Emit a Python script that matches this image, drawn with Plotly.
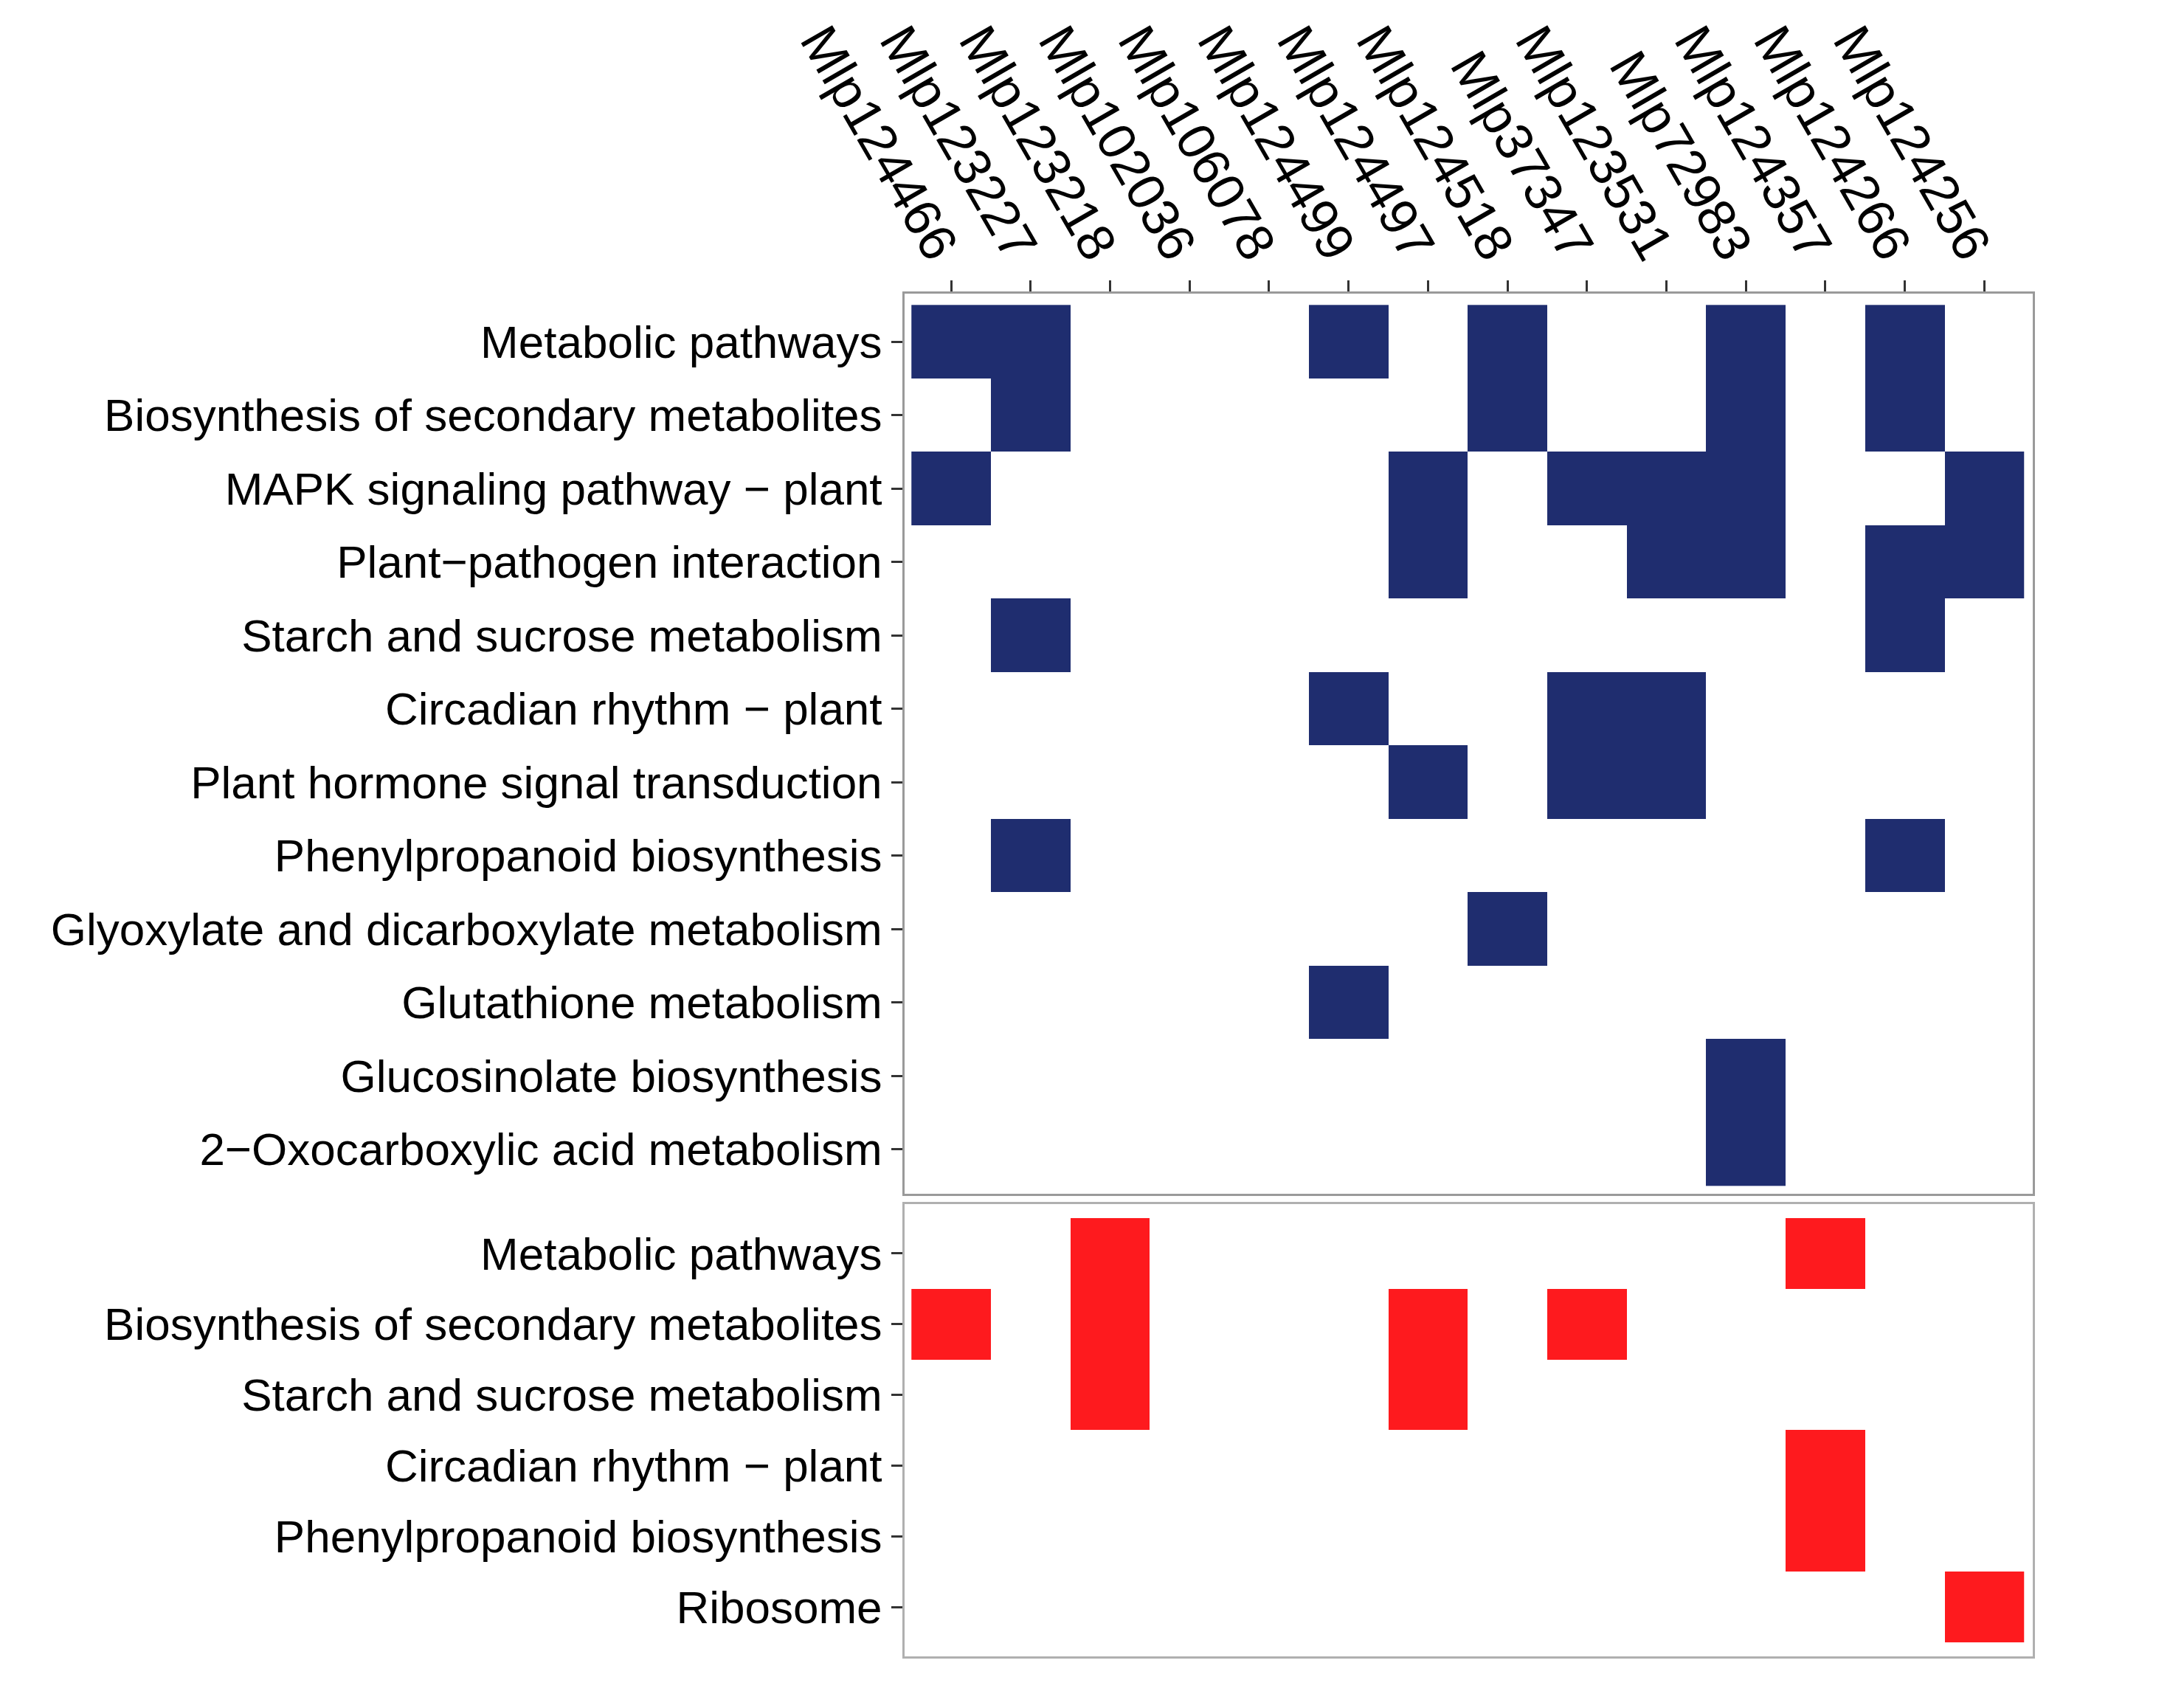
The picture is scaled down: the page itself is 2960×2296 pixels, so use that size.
import plotly.graph_objects as go

# ---------------- data ----------------
genes = ["Mlp124466", "Mlp123227", "Mlp123218", "Mlp102036", "Mlp106078",
         "Mlp124499", "Mlp124497", "Mlp124518", "Mlp37347", "Mlp123531",
         "Mlp72983", "Mlp124357", "Mlp124266", "Mlp124256"]

blue_pathways = [
    "Metabolic pathways",
    "Biosynthesis of secondary metabolites",
    "MAPK signaling pathway \u2212 plant",
    "Plant\u2212pathogen interaction",
    "Starch and sucrose metabolism",
    "Circadian rhythm \u2212 plant",
    "Plant hormone signal transduction",
    "Phenylpropanoid biosynthesis",
    "Glyoxylate and dicarboxylate metabolism",
    "Glutathione metabolism",
    "Glucosinolate biosynthesis",
    "2\u2212Oxocarboxylic acid metabolism",
]

blue_matrix = [
    [1, 1, 0, 0, 0, 1, 0, 1, 0, 0, 1, 0, 1, 0],
    [0, 1, 0, 0, 0, 0, 0, 1, 0, 0, 1, 0, 1, 0],
    [1, 0, 0, 0, 0, 0, 1, 0, 1, 1, 1, 0, 0, 1],
    [0, 0, 0, 0, 0, 0, 1, 0, 0, 1, 1, 0, 1, 1],
    [0, 1, 0, 0, 0, 0, 0, 0, 0, 0, 0, 0, 1, 0],
    [0, 0, 0, 0, 0, 1, 0, 0, 1, 1, 0, 0, 0, 0],
    [0, 0, 0, 0, 0, 0, 1, 0, 1, 1, 0, 0, 0, 0],
    [0, 1, 0, 0, 0, 0, 0, 0, 0, 0, 0, 0, 1, 0],
    [0, 0, 0, 0, 0, 0, 0, 1, 0, 0, 0, 0, 0, 0],
    [0, 0, 0, 0, 0, 1, 0, 0, 0, 0, 0, 0, 0, 0],
    [0, 0, 0, 0, 0, 0, 0, 0, 0, 0, 1, 0, 0, 0],
    [0, 0, 0, 0, 0, 0, 0, 0, 0, 0, 1, 0, 0, 0],
]

red_pathways = [
    "Metabolic pathways",
    "Biosynthesis of secondary metabolites",
    "Starch and sucrose metabolism",
    "Circadian rhythm \u2212 plant",
    "Phenylpropanoid biosynthesis",
    "Ribosome",
]

red_matrix = [
    [0, 0, 1, 0, 0, 0, 0, 0, 0, 0, 0, 1, 0, 0],
    [1, 0, 1, 0, 0, 0, 1, 0, 1, 0, 0, 0, 0, 0],
    [0, 0, 1, 0, 0, 0, 1, 0, 0, 0, 0, 0, 0, 0],
    [0, 0, 0, 0, 0, 0, 0, 0, 0, 0, 0, 1, 0, 0],
    [0, 0, 0, 0, 0, 0, 0, 0, 0, 0, 0, 1, 0, 0],
    [0, 0, 0, 0, 0, 0, 0, 0, 0, 0, 0, 0, 0, 1],
]

# ---------------- styling ----------------
BLUE = "#1F2D6F"
RED = "#FE1A1E"
W, H = 2960, 2296
FONT = "Liberation Sans, Arial, sans-serif"


def mask(m):
    return [[1 if v else None for v in row] for row in m]


fig = go.Figure()
fig.add_trace(go.Heatmap(
    x=genes, y=blue_pathways, z=mask(blue_matrix),
    colorscale=[[0, BLUE], [1, BLUE]], zmin=0, zmax=1,
    showscale=False, xaxis="x", yaxis="y", hoverongaps=False))
fig.add_trace(go.Heatmap(
    x=genes, y=red_pathways, z=mask(red_matrix),
    colorscale=[[0, RED], [1, RED]], zmin=0, zmax=1,
    showscale=False, xaxis="x2", yaxis="y2", hoverongaps=False))

x_dom = [1218 / W, 2747 / W]
top_dom = [1 - 1610 / H, 1 - 390 / H]
bot_dom = [1 - 2237 / H, 1 - 1624 / H]

axis_common = dict(
    type="category", showgrid=False, zeroline=False, automargin=False,
    showline=True, linecolor="#9a9a9a", linewidth=3, mirror=True,
    ticks="outside", ticklen=15, tickwidth=3, tickcolor="#333333",
    tickfont=dict(family=FONT, size=62, color="black"),
)

x_range = [-0.586, 13.611]

fig.update_layout(
    width=W, height=H,
    margin=dict(l=0, r=0, t=0, b=0),
    paper_bgcolor="white", plot_bgcolor="white",
    font=dict(family=FONT, size=62, color="black"),
    showlegend=False,
    xaxis=dict(axis_common, domain=x_dom, anchor="y", side="top",
               range=x_range, tickangle=60, ticklabelstandoff=-24,
               tickfont=dict(family=FONT, size=71, color="black"),
               categoryorder="array", categoryarray=genes),
    xaxis2=dict(axis_common, domain=x_dom, anchor="y2", range=x_range,
                showticklabels=False, ticks="", linecolor="#b0b0b0",
                categoryorder="array", categoryarray=genes),
    yaxis=dict(axis_common, domain=top_dom, anchor="x",
               range=[11.607, -0.654],
               categoryorder="array", categoryarray=blue_pathways),
    yaxis2=dict(axis_common, domain=bot_dom, anchor="x2",
                range=[5.698, -0.698], linecolor="#b0b0b0",
                categoryorder="array", categoryarray=red_pathways),
)

fig.write_html("out.html")
